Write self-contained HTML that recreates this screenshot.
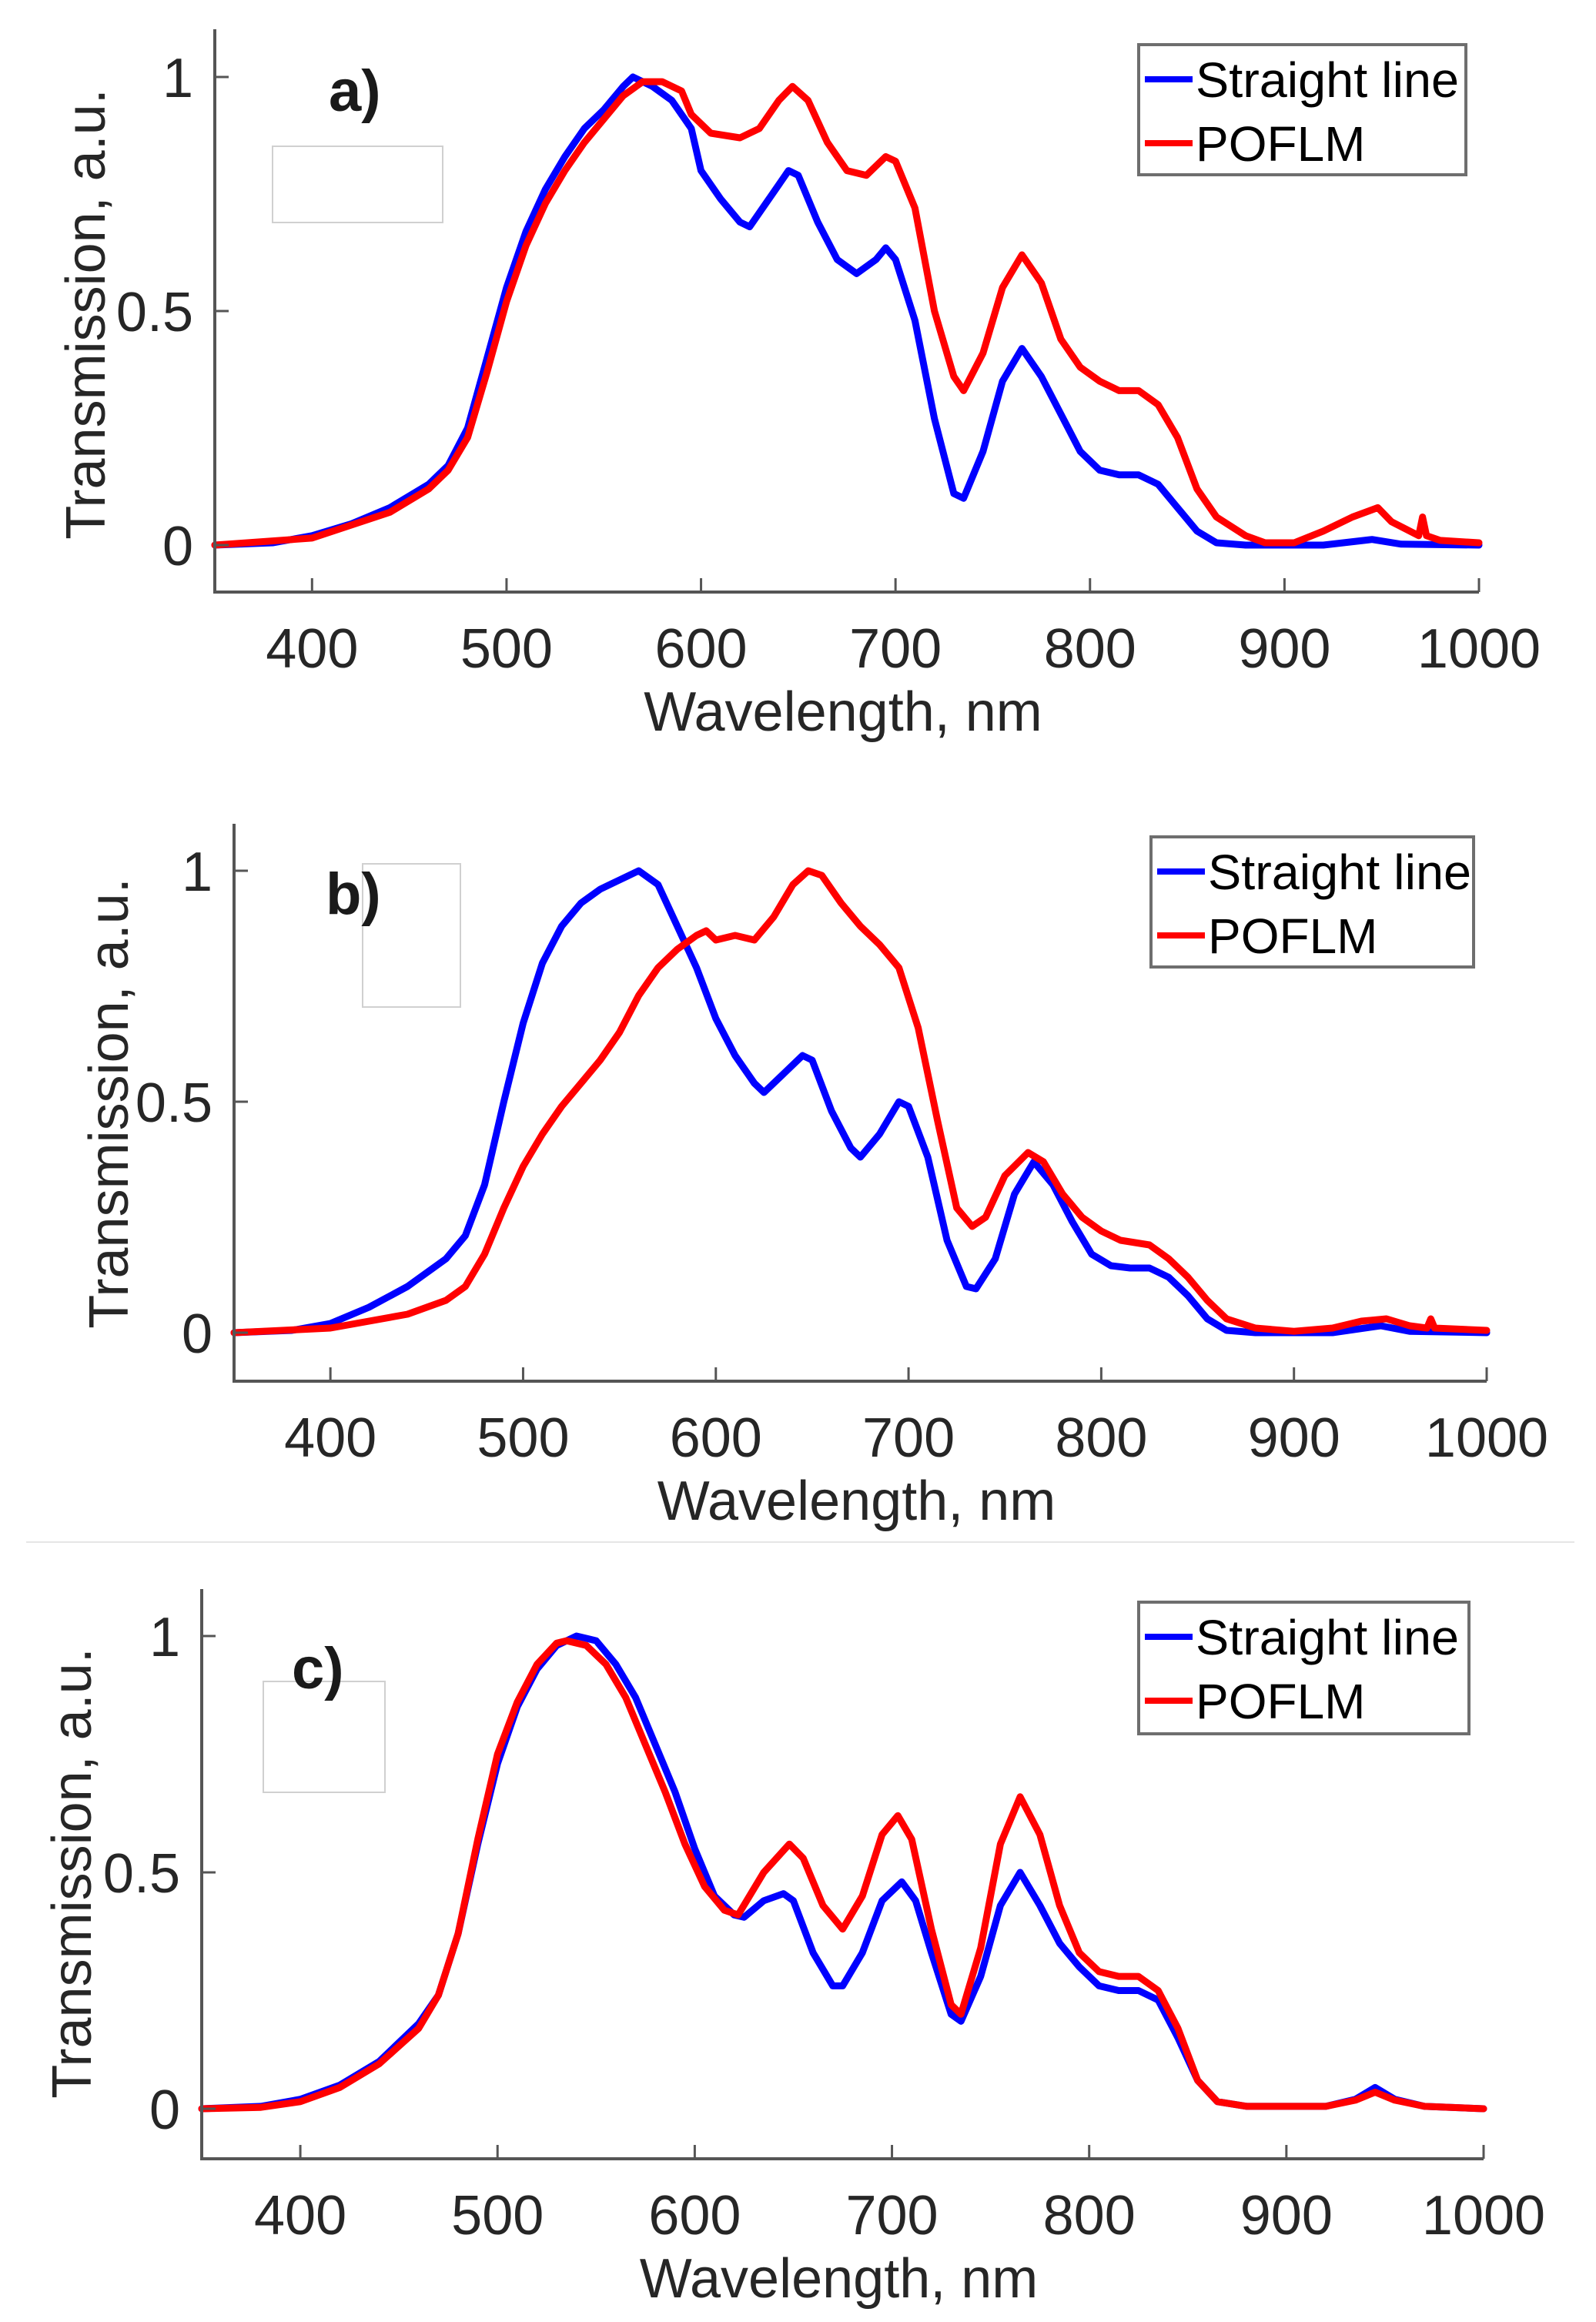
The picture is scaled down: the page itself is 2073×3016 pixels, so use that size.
<!DOCTYPE html>
<html><head><meta charset="utf-8"><style>
html,body{margin:0;padding:0;background:#fff;}
svg{display:block;font-family:"Liberation Sans",Arial,sans-serif;}
</style></head><body>
<svg id="fig" width="2073" height="3016" viewBox="0 0 2073 3016" xmlns="http://www.w3.org/2000/svg">
<rect width="2073" height="3016" fill="#fff"/>
<line x1="34" y1="2003" x2="2045" y2="2003" stroke="#e6e6e6" stroke-width="2"/>
</svg>
<script>
// Panel a
const aWl_blue = [350,380,400,420,440,460,470,480,490,500,510,520,530,540,550,560,565,575,585,595,600,610,620,625,635,645,650,660,670,680,690,695,700,710,720,730,735,745,755,765,775,785,795,805,815,825,835,845,855,865,880,920,945,960,1000];
const aT_blue = [0,0.005,0.02,0.045,0.08,0.13,0.17,0.25,0.4,0.55,0.67,0.76,0.83,0.89,0.93,0.98,1.0,0.98,0.95,0.89,0.8,0.74,0.69,0.68,0.74,0.8,0.79,0.69,0.61,0.58,0.61,0.635,0.61,0.48,0.27,0.11,0.10,0.2,0.35,0.42,0.36,0.28,0.2,0.16,0.15,0.15,0.13,0.08,0.03,0.005,0,0,0.012,0.002,0];
const aWl_red = [350,400,440,460,470,480,490,500,510,520,530,540,550,560,570,580,590,595,605,620,630,640,647,655,665,675,685,695,700,710,720,730,735,745,755,765,775,785,795,805,815,825,835,845,855,865,880,890,905,920,935,948,955,969,971,973,980,1000];
const aT_red = [0,0.015,0.07,0.12,0.16,0.23,0.37,0.52,0.64,0.73,0.8,0.86,0.91,0.96,0.99,0.99,0.97,0.92,0.88,0.87,0.89,0.95,0.98,0.95,0.86,0.8,0.79,0.83,0.82,0.72,0.5,0.36,0.33,0.41,0.55,0.62,0.56,0.44,0.38,0.35,0.33,0.33,0.3,0.23,0.12,0.06,0.02,0.005,0.005,0.03,0.06,0.08,0.05,0.02,0.06,0.02,0.01,0.005];
// Panel b
const bWl_blue = [350,380,400,420,440,460,470,480,490,500,510,520,530,540,550,560,570,580,590,600,610,620,625,635,645,650,660,670,675,685,695,700,710,720,730,735,745,755,765,775,785,795,805,815,825,835,845,855,865,880,920,945,960,1000];
const bT_blue = [0,0.005,0.02,0.055,0.1,0.16,0.21,0.32,0.5,0.67,0.8,0.88,0.93,0.96,0.98,1.0,0.97,0.88,0.79,0.68,0.6,0.54,0.52,0.56,0.6,0.59,0.48,0.4,0.38,0.43,0.5,0.49,0.38,0.2,0.1,0.095,0.16,0.3,0.37,0.32,0.24,0.17,0.145,0.14,0.14,0.12,0.08,0.03,0.005,0,0,0.015,0.003,0];
const bWl_red = [350,400,440,460,470,480,490,500,510,520,530,540,550,560,570,580,590,595,600,610,620,630,640,648,655,665,675,685,695,705,715,725,733,740,750,762,770,780,790,800,810,825,835,845,855,865,880,900,920,935,948,960,969,971,973,1000];
const bT_red = [0,0.01,0.04,0.07,0.1,0.17,0.27,0.36,0.43,0.49,0.54,0.59,0.65,0.73,0.79,0.83,0.86,0.87,0.85,0.86,0.85,0.9,0.97,1.0,0.99,0.93,0.88,0.84,0.79,0.66,0.46,0.27,0.23,0.25,0.34,0.39,0.37,0.3,0.25,0.22,0.2,0.19,0.16,0.12,0.07,0.03,0.01,0.003,0.01,0.025,0.03,0.015,0.01,0.03,0.01,0.005];
// Panel c
const cWl_blue = [350,380,400,420,440,460,470,480,490,500,510,520,530,540,550,560,570,580,590,600,610,620,625,635,645,650,660,670,675,685,695,705,712,720,730,735,745,755,765,775,785,795,805,815,825,835,845,855,865,880,920,935,945,955,970,1000];
const cT_blue = [0,0.005,0.02,0.05,0.1,0.18,0.24,0.37,0.56,0.73,0.85,0.93,0.98,1.0,0.99,0.94,0.87,0.77,0.67,0.55,0.45,0.41,0.405,0.44,0.455,0.44,0.33,0.26,0.26,0.33,0.44,0.48,0.44,0.33,0.2,0.185,0.28,0.43,0.5,0.43,0.35,0.3,0.26,0.25,0.25,0.23,0.15,0.06,0.015,0.005,0.005,0.02,0.045,0.02,0.005,0];
const cWl_red = [350,380,400,420,440,460,470,480,490,500,510,520,530,535,545,555,565,575,585,595,605,615,622,635,648,655,665,675,685,695,703,710,720,730,735,745,755,765,775,785,795,805,815,825,835,845,855,865,880,920,935,945,955,970,1000];
const cT_red = [0,0.003,0.015,0.045,0.095,0.17,0.24,0.37,0.57,0.75,0.86,0.94,0.985,0.99,0.98,0.94,0.87,0.77,0.67,0.56,0.47,0.42,0.41,0.5,0.56,0.53,0.43,0.38,0.45,0.58,0.62,0.57,0.38,0.22,0.2,0.34,0.56,0.66,0.58,0.43,0.33,0.29,0.28,0.28,0.25,0.17,0.06,0.015,0.005,0.005,0.018,0.035,0.018,0.005,0];
// Tick labels
const xTicks = [400,500,600,700,800,900,1000];
const yTicks = [0,0.5,1];
const yTickLabels = ["0","0.5","1"];

const NS = "http://www.w3.org/2000/svg";
const svg = document.getElementById('fig');
function mk(tag, attrs, parent){
  const e = document.createElementNS(NS, tag);
  for (const k in attrs) e.setAttribute(k, attrs[k]);
  (parent||svg).appendChild(e);
  return e;
}
function panel(p){
  const g = mk('g', {});
  
  
  const xs = v => p.L + (v - 350) / 650 * (p.R - p.L);
  const ys = v => p.y0 - v * (p.y0 - p.y1);
  const fb = mk('rect', {x:p.fb[0], y:p.fb[1], width:p.fb[2], height:p.fb[3], fill:'none', stroke:'#d0d0d0', 'stroke-width':2}, g);
  
  
  const series = [[p.wlB, p.tB, '#0000ff', 'straight-line-series'], [p.wlR, p.tR, '#ff0000', 'poflm-series']];
  series.forEach(s => {
    let d = '';
    s[0].forEach((w, i) => { d += (i ? 'L' : 'M') + xs(w).toFixed(1) + ' ' + ys(s[1][i]).toFixed(1); });
    const path = mk('path', {d:d, fill:'none', stroke:s[2], 'stroke-width':9, 'stroke-linejoin':'round', 'stroke-linecap':'round'}, g);
    
    
  });
  const ax = mk('path', {d:`M${p.L} ${p.top} L${p.L} ${p.bot} L${p.R} ${p.bot}`, fill:'none', stroke:'#555', 'stroke-width':4}, g);
  
  
  xTicks.forEach(t => {
    const x = xs(t);
    const tk = mk('line', {x1:x, y1:p.bot, x2:x, y2:p.bot-18, stroke:'#555', 'stroke-width':3}, g);
    
    
    const tl = mk('text', {x:x, y:p.bot+98, 'font-size':72, 'text-anchor':'middle', fill:'#262626'}, g);
    
    
    tl.textContent = t;
  });
  yTicks.forEach((t, i) => {
    const y = ys(t);
    const tk = mk('line', {x1:p.L, y1:y, x2:p.L+18, y2:y, stroke:'#555', 'stroke-width':3}, g);
    
    
    const tl = mk('text', {x:p.L-28, y:y+26, 'font-size':72, 'text-anchor':'end', fill:'#262626'}, g);
    
    
    tl.textContent = yTickLabels[i];
  });
  const xl = mk('text', {x:(p.L+p.R)/2 - 5, y:p.bot+180, 'font-size':72, 'text-anchor':'middle', fill:'#262626'}, g);
  
  
  xl.textContent = 'Wavelength, nm';
  const yl = mk('text', {x:0, y:0, 'font-size':72, 'text-anchor':'middle', fill:'#262626', transform:`translate(${p.ylx},${p.yly}) rotate(-90)`}, g);
  
  
  yl.textContent = p.ytitle;
  const pl = mk('text', {x:p.lab[0], y:p.lab[1], 'font-size':76, 'font-weight':'bold', fill:'#1a1a1a'}, g);
  
  
  pl.textContent = p.id + ')';
  const lg = mk('g', {}, g);
  
  
  const [bx, by, bw, bh] = p.leg;
  mk('rect', {x:bx, y:by, width:bw, height:bh, fill:'#fff', stroke:'#6e6e6e', 'stroke-width':4}, lg);
  [['#0000ff', 'Straight line', 45, 'legend-entry-straight-line'], ['#ff0000', 'POFLM', 128, 'legend-entry-poflm']].forEach(e => {
    const eg = mk('g', {}, lg);
    
    
    mk('line', {x1:bx+8, y1:by+e[2], x2:bx+70, y2:by+e[2], stroke:e[0], 'stroke-width':8}, eg);
    const t = mk('text', {x:bx+74, y:by+e[2]+23, 'font-size':64, fill:'#000'}, eg);
    if (e[1] === 'Straight line') { t.setAttribute('textLength', 342); t.setAttribute('lengthAdjust', 'spacingAndGlyphs'); }
    t.textContent = e[1];
  });
}
panel({id:'a', L:279, R:1921, top:38, bot:769, y0:708, y1:100, wlB:aWl_blue, tB:aT_blue, wlR:aWl_red, tR:aT_red,
  ylx:136, yly:408, ytitle:'Transmission, a.u.', lab:[427,144], leg:[1479,58,425,169], fb:[354,190,221,99]});
panel({id:'b', L:304, R:1931, top:1070, bot:1794, y0:1731, y1:1131, wlB:bWl_blue, tB:bT_blue, wlR:bWl_red, tR:bT_red,
  ylx:166, yly:1433, ytitle:'Transmission,  a.u.', lab:[423,1187], leg:[1495,1087,419,169], fb:[471,1122,127,186]});
panel({id:'c', L:262, R:1927, top:2064, bot:2804, y0:2739, y1:2125, wlB:cWl_blue, tB:cT_blue, wlR:cWl_red, tR:cT_red,
  ylx:118, yly:2433, ytitle:'Transmission, a.u.', lab:[379,2193], leg:[1479,2081,429,171], fb:[342,2184,158,144]});
</script>
</body></html>
